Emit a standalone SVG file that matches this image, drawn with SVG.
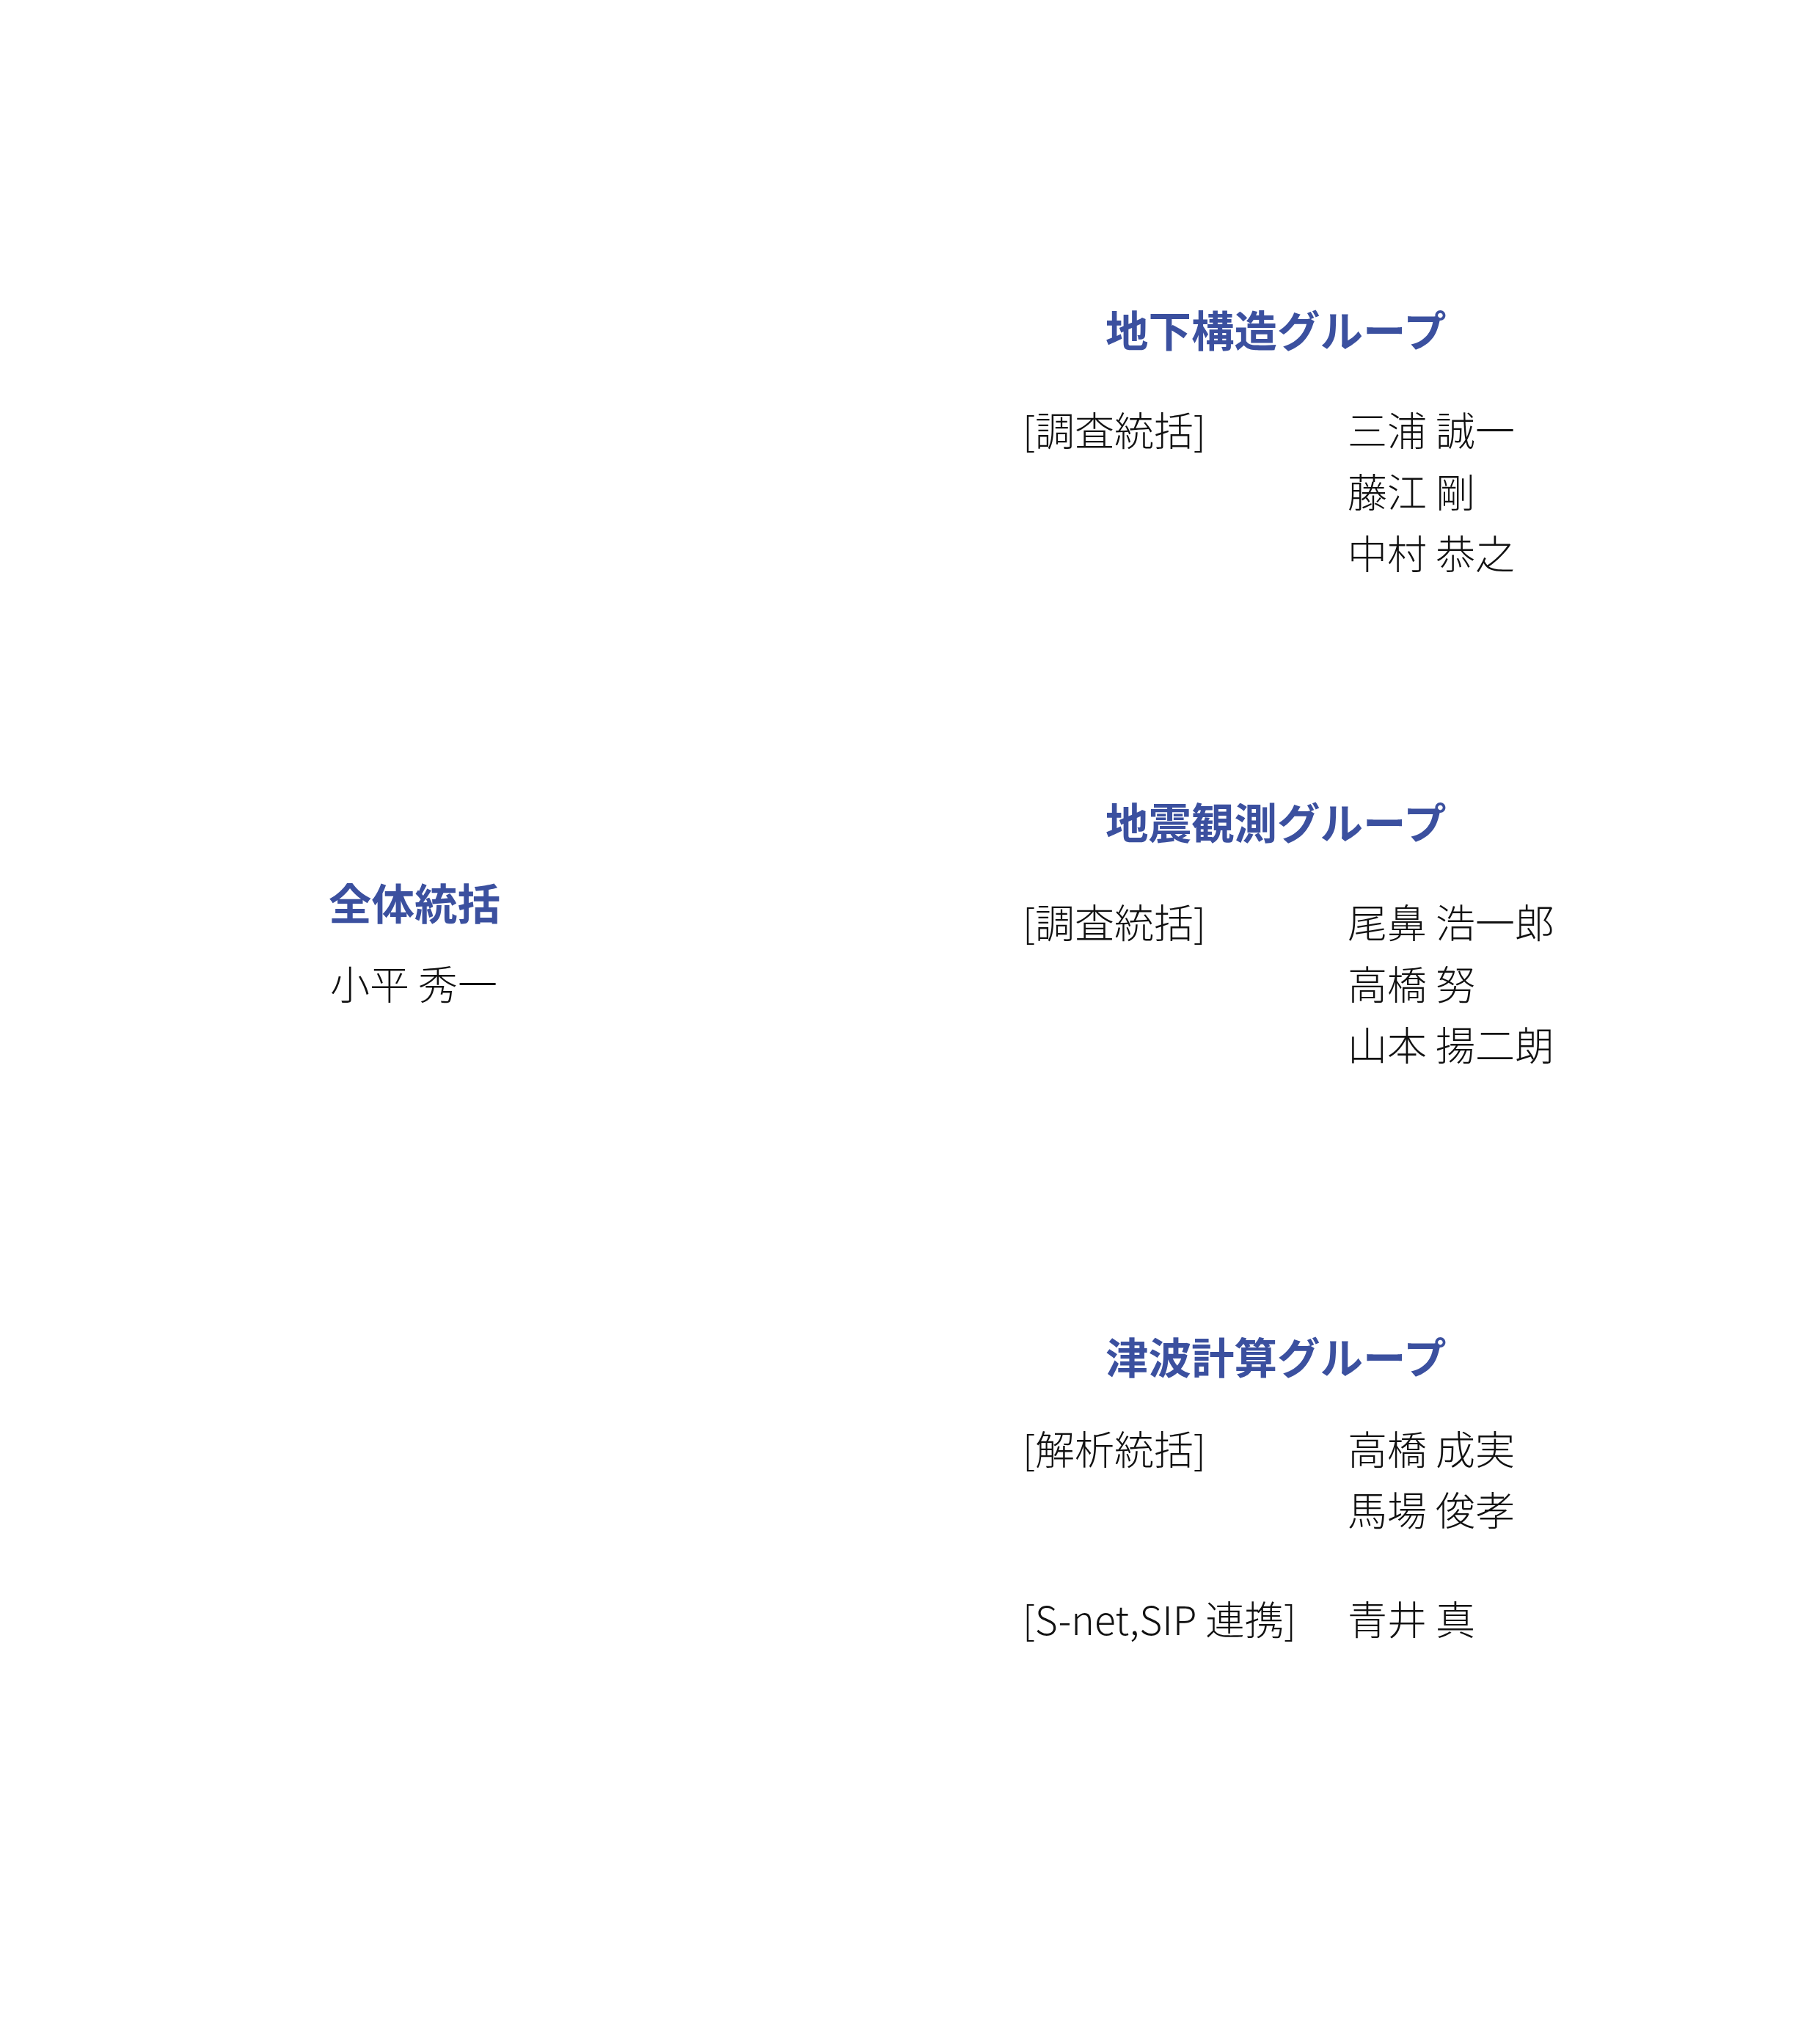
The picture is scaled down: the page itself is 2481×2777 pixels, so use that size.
<svg xmlns="http://www.w3.org/2000/svg" width="2481" height="2777" viewBox="0 0 2481 2777">
<style>
.t{font-family:"Noto Sans CJK JP","Noto Sans",sans-serif;font-size:58.5px;font-weight:700;fill:#3b509f}
.n{font-family:"Noto Sans CJK JP","Noto Sans",sans-serif;font-size:54px;font-weight:300;fill:#111111}
</style>
<rect width="2481" height="2777" fill="#ffffff"/>
<g id="overall">
<text class="t" x="448" y="1254">全体統括</text>
<text class="n" x="450" y="1363">小平 秀一</text>
</g>
<g id="group-chika">
<text class="t" x="1507" y="473">地下構造グループ</text>
<text class="n" x="1394" y="608">[調査統括]</text>
<text class="n" x="1837" y="608">三浦 誠一</text>
<text class="n" x="1837" y="692">藤江 剛</text>
<text class="n" x="1837" y="776">中村 恭之</text>
</g>
<g id="group-jishin">
<text class="t" x="1507" y="1144">地震観測グループ</text>
<text class="n" x="1394" y="1279">[調査統括]</text>
<text class="n" x="1837" y="1279">尾鼻 浩一郎</text>
<text class="n" x="1837" y="1363">高橋 努</text>
<text class="n" x="1837" y="1446">山本 揚二朗</text>
</g>
<g id="group-tsunami">
<text class="t" x="1507" y="1873">津波計算グループ</text>
<text class="n" x="1394" y="1997">[解析統括]</text>
<text class="n" x="1837" y="1997">高橋 成実</text>
<text class="n" x="1837" y="2080">馬場 俊孝</text>
<text class="n" x="1394" y="2229" textLength="373" lengthAdjust="spacingAndGlyphs">[S-net,SIP 連携]</text>
<text class="n" x="1837" y="2229">青井 真</text>
</g>
<g id="connectors"></g>
</svg>
